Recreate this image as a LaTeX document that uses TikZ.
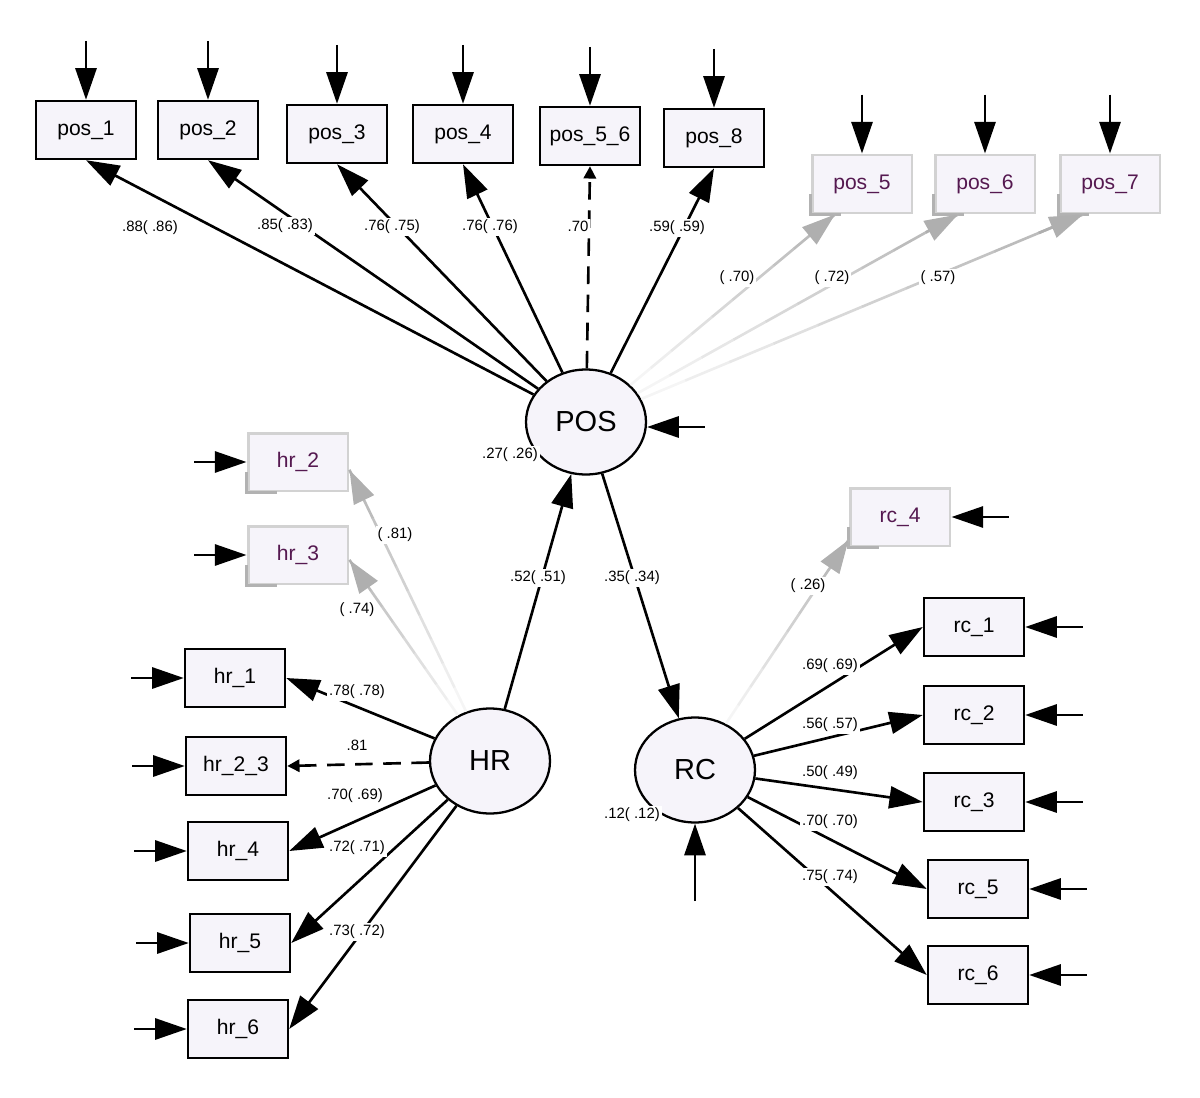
\documentclass[tikz,border=0pt]{standalone}
\usepackage{fontspec}
\setmainfont{Liberation Sans}
\usetikzlibrary{arrows.meta, positioning, shapes.geometric, calc}

\definecolor{boxfill}{RGB}{246,244,250}
\definecolor{weakline}{RGB}{175,175,175}
\definecolor{weaktext}{RGB}{85,25,80}

\begin{document}
\begin{tikzpicture}[x=0.02cm, y=-0.02cm,
  obs/.style={draw, line width=1.4pt, fill=boxfill, minimum width=2cm, minimum height=1.16cm, inner sep=0pt, font=\fontsize{12}{14}\selectfont},
  weak/.style={obs, draw=gray!35, line width=1.7pt, text=weaktext},
  lat/.style={ellipse, draw, line width=1.3pt, fill=boxfill, minimum width=2.4cm, minimum height=2.1cm, inner sep=0pt, font=\fontsize{16.5}{18}\selectfont},
  load/.style={line width=1.5pt, -{Triangle[length=19pt,width=12.5pt]}},
  weakload/.style={load, draw=weakline, fill=weakline},
  fixload/.style={line width=1.5pt, dash pattern=on 10pt off 6pt, -{Triangle[length=7pt,width=7pt]}},
  err/.style={line width=1.5pt, -{Triangle[length=18pt,width=12pt]}},
  coef/.style={fill=white, inner sep=1pt, font=\fontsize{8.5}{10}\selectfont}]
  \useasboundingbox (0,0) rectangle (1200,1098);

  % 潜变量
  \node[lat] (POS) at (586,422) {POS};
  \node[lat] (HR) at (490,761) {HR};
  \node[lat] (RC) at (695,770) {RC};

  % POS 指标
  \node[obs] (pos_1) at (86,130) {pos\_1};
  \node[obs] (pos_2) at (208,130) {pos\_2};
  \node[obs] (pos_3) at (337,134) {pos\_3};
  \node[obs] (pos_4) at (463,134) {pos\_4};
  \node[obs] (pos_5_6) at (590,136) {pos\_5\_6};
  \node[obs] (pos_8) at (714,138) {pos\_8};
  \node[weak] (pos_5) at (862,184) {pos\_5};
  \node[weak] (pos_6) at (985,184) {pos\_6};
  \node[weak] (pos_7) at (1110,184) {pos\_7};

  % HR 指标
  \node[weak] (hr_2) at (298,462) {hr\_2};
  \node[weak] (hr_3) at (298,555) {hr\_3};
  \node[obs] (hr_1) at (235,678) {hr\_1};
  \node[obs] (hr_2_3) at (236,766) {hr\_2\_3};
  \node[obs] (hr_4) at (238,851) {hr\_4};
  \node[obs] (hr_5) at (240,943) {hr\_5};
  \node[obs] (hr_6) at (238,1029) {hr\_6};

  % RC 指标
  \node[weak] (rc_4) at (900,517) {rc\_4};
  \node[obs] (rc_1) at (974,627) {rc\_1};
  \node[obs] (rc_2) at (974,715) {rc\_2};
  \node[obs] (rc_3) at (974,802) {rc\_3};
  \node[obs] (rc_5) at (978,889) {rc\_5};
  \node[obs] (rc_6) at (978,975) {rc\_6};

  % 灰色框的阴影角
  \foreach \n in {pos_5, pos_6, pos_7, hr_2, hr_3, rc_4} {
    \draw[gray!60, line width=1.7pt] ([yshift=0.4cm]\n.south west) -- (\n.south west) -- ([xshift=0.6cm]\n.south west);
  }

  % 误差项
  \foreach \n in {pos_1, pos_2, pos_3, pos_4, pos_5_6, pos_8, pos_5, pos_6, pos_7} {
    \coordinate (e\n) at ([yshift=1.18cm]\n.north);
    \draw[err] (e\n) -- (\n.north);
  }
  \foreach \n in {hr_1, hr_2, hr_3, hr_2_3, hr_4, hr_5, hr_6} {
    \coordinate (e\n) at ([xshift=-1.05cm]\n.west);
    \draw[err] (e\n) -- (\n.west);
  }
  \foreach \n in {rc_1, rc_2, rc_3, rc_4, rc_5, rc_6} {
    \coordinate (e\n) at ([xshift=1.15cm]\n.east);
    \draw[err] (e\n) -- (\n.east);
  }
  \coordinate (ePOS) at ([xshift=1.15cm,yshift=-0.1cm]POS.east);
  \draw[err] (ePOS) -- ([yshift=-0.1cm]POS.east);
  \coordinate (eRC) at ([yshift=-1.55cm]RC.south);
  \draw[err] (eRC) -- (RC.south);

  % 载荷
  \foreach \n in {pos_1, pos_2, pos_3, pos_4, pos_8} {
    \draw[load] (POS) -- (\n.south);
  }
  \draw[fixload] (POS) -- (pos_5_6.south);
  \foreach \n in {hr_1, hr_4, hr_5, hr_6} {
    \draw[load] (HR) -- (\n.east);
  }
  \draw[fixload] (HR) -- (hr_2_3.east);
  \foreach \n in {rc_1, rc_2, rc_3, rc_5, rc_6} {
    \draw[load] (RC) -- (\n.west);
  }

  % 删除的指标：渐变灰线
  \path (POS) -- ([xshift=-0.54cm]pos_5.south) coordinate[pos=0] (spos_5) coordinate[pos=1] (tpos_5);
  \path (POS) -- ([xshift=-0.54cm]pos_6.south) coordinate[pos=0] (spos_6) coordinate[pos=1] (tpos_6);
  \path (POS) -- ([xshift=-0.54cm]pos_7.south) coordinate[pos=0] (spos_7) coordinate[pos=1] (tpos_7);
  \path (HR) -- ([yshift=-0.16cm]hr_2.east) coordinate[pos=0] (shr_2) coordinate[pos=1] (thr_2);
  \path (HR) -- ([yshift=-0.1cm]hr_3.east) coordinate[pos=0] (shr_3) coordinate[pos=1] (thr_3);
  \path (RC) -- ([yshift=0.15cm]rc_4.south west) coordinate[pos=0] (src_4) coordinate[pos=1] (trc_4);
  \foreach \n in {pos_5, pos_6, pos_7, hr_2, hr_3, rc_4} {
    \foreach \k in {0,...,9} {
      \pgfmathtruncatemacro{\p}{12+\k*9}
      \draw[weakline!\p!white, line width=1.5pt] ($(s\n)!\k/10!(t\n)$) -- ($(s\n)!\k/10+0.101!(t\n)$);
    }
    \draw[weakload] ($(s\n)!0.9!(t\n)$) -- (t\n);
  }

  % 结构路径
  \draw[load] (HR) -- (POS);
  \draw[load] (POS) -- (RC);

  % 系数标签
  \foreach \i/\x/\y/\t in {1/150/228/.88( .86), 2/285/226/.85( .83), 3/392/227/.76( .75),
      4/490/227/.76( .76), 5/578/226/.70, 6/677/228/.59( .59), 7/737/278/( .70),
      8/832/278/( .72), 9/938/278/( .57), 10/510/455/.27( .26), 11/395/535/( .81),
      12/357/610/( .74), 13/538/578/.52( .51), 14/632/578/.35( .34), 15/808/586/( .26),
      16/830/666/.69( .69), 17/830/725/.56( .57), 18/830/773/.50( .49), 19/830/822/.70( .70),
      20/830/877/.75( .74), 21/632/815/.12( .12), 22/357/692/.78( .78), 23/357/745/.81,
      24/355/796/.70( .69), 25/357/848/.72( .71), 26/357/932/.73( .72)} {
    \node[coef] (l\i) at (\x,\y) {\t};
  }
\end{tikzpicture}
\end{document}
